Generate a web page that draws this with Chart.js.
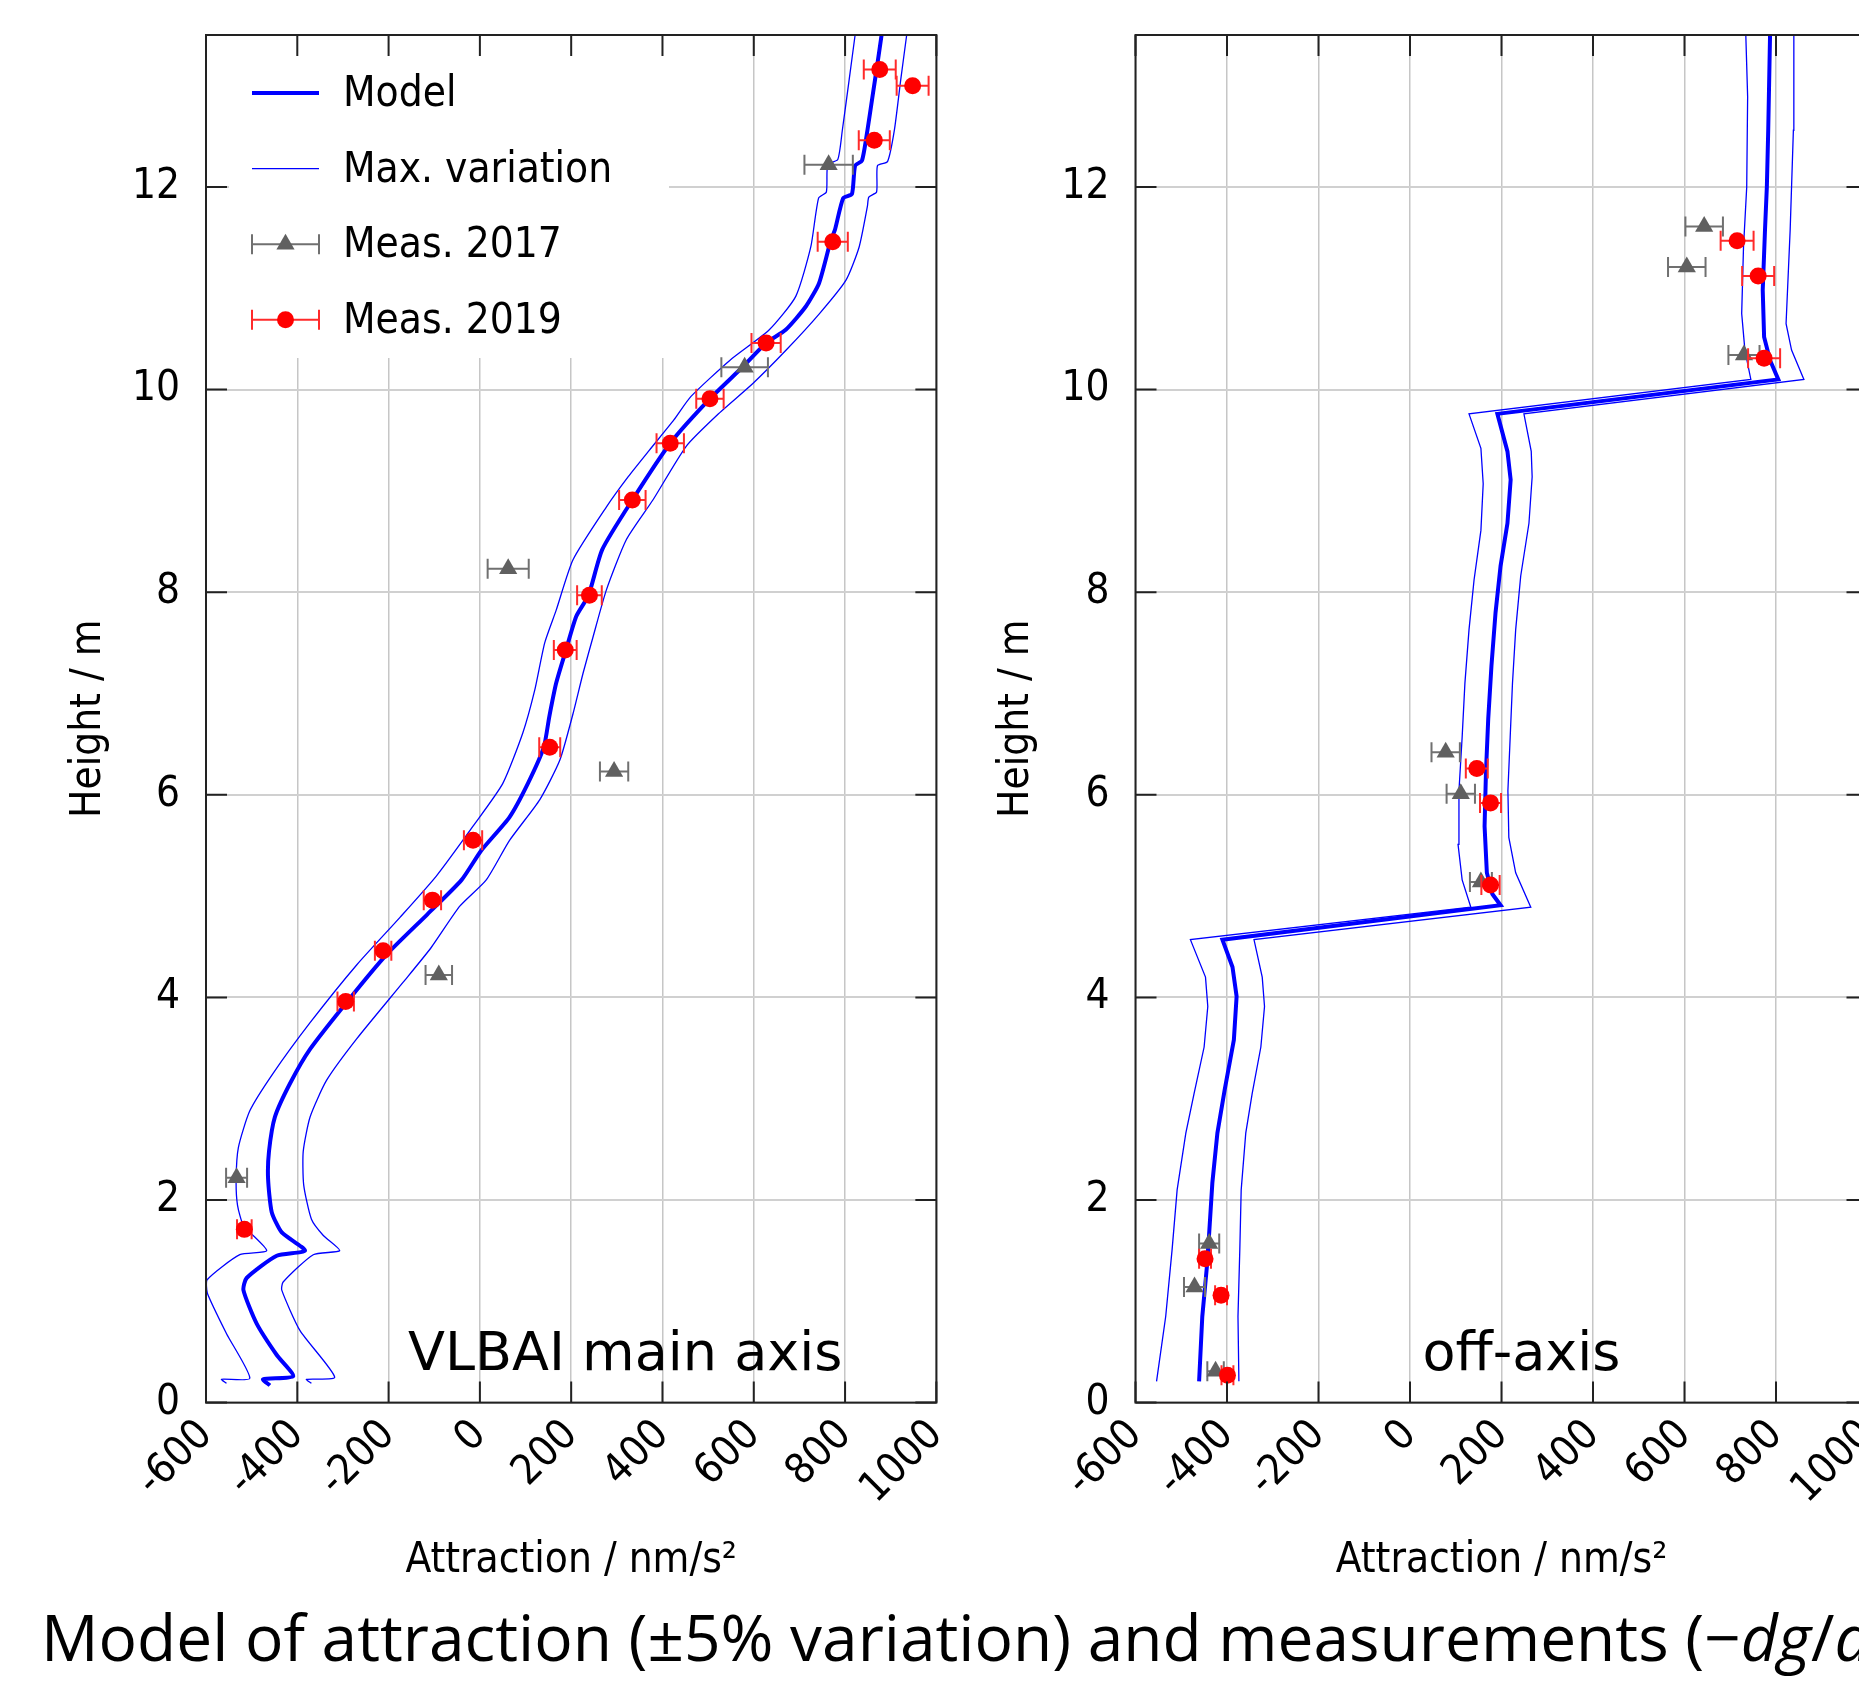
<!DOCTYPE html>
<html>
<head>
<meta charset="utf-8">
<script src="https://cdn.jsdelivr.net/npm/chart.js@4.4.1/dist/chart.umd.min.js"></script>
<style>
html, body { margin: 0; padding: 0; background: #fff; overflow: hidden; width: 1859px; height: 1681px; }
#page { position: relative; width: 2000px; height: 1681px; }
#main { position: absolute; left: 0; top: 0; }
#off { position: absolute; left: 960px; top: 0; }
#title { position: absolute; left: 41px; top: 1605px; font-family: 'Open Sans', 'Noto Sans', sans-serif; font-size: 64px; line-height: 64px; white-space: nowrap; color: #000; }
</style>
</head>
<body>
<div id="page">
  <canvas id="main" width="980" height="1681"></canvas>
  <canvas id="off" width="1000" height="1681"></canvas>
  <div id="title">Model of attraction (±5% variation) and measurements (−<i>dg</i>/<i>dz</i>)</div>
</div>
<script>
const condensed = "'DejaVu Sans Condensed', 'DejaVu Sans', sans-serif";

// axis ticks
const attractionTicks = [-600, -400, -200, 0, 200, 400, 600, 800, 1000];
const heightTicks = [0, 2, 4, 6, 8, 10, 12];

// VLBAI main axis: model and +-5% variation (height in m, attraction in nm/s^2)
const mainModelH = [0.17, 0.23, 0.26, 0.47, 0.78, 1.11, 1.23, 1.45, 1.50, 1.68, 1.88, 2.21, 2.48, 2.82, 3.15, 3.49, 3.99, 4.42, 4.82, 5.16, 5.45, 5.78, 6.11, 6.47, 6.77, 7.10, 7.42, 7.76, 7.97, 8.42, 8.91, 9.47, 9.91, 10.22, 10.46, 10.59, 10.82, 11.05, 11.46, 11.58, 11.89, 11.93, 12.21, 12.26, 12.56, 12.89, 13.22, 13.5];
const mainModelX = [-460, -475, -409, -445, -489, -518, -511, -445, -383, -434, -456, -464, -462, -449, -416, -372, -285, -205, -115, -40, 3, 65, 105, 140, 152, 167, 188, 211, 238, 268, 334, 417, 504, 575, 627, 670, 714, 743, 768, 778, 796, 815, 822, 837, 849, 860, 871, 880];
const mainLowH = [0.19, 0.23, 0.24, 0.68, 1.08, 1.21, 1.46, 1.50, 1.75, 1.95, 2.21, 2.52, 2.88, 3.25, 3.75, 4.32, 4.79, 5.20, 5.69, 6.11, 6.61, 7.03, 7.50, 7.82, 8.32, 8.84, 9.14, 9.40, 9.70, 9.93, 10.29, 10.59, 10.92, 11.41, 11.89, 11.95, 12.22, 12.27, 12.56, 13.06, 13.5];
const mainLowX = [-555, -566, -504, -555, -597, -598, -526, -467, -518, -531, -534, -529, -504, -453, -372, -270, -175, -95, -15, 50, 94, 120, 142, 167, 204, 277, 325, 371, 425, 462, 548, 634, 692, 725, 742, 759, 762, 784, 794, 809, 822];
const mainHighH = [0.19, 0.23, 0.25, 0.71, 1.11, 1.19, 1.46, 1.50, 1.65, 1.81, 2.15, 2.48, 2.82, 3.18, 3.59, 4.15, 4.49, 4.90, 5.16, 5.55, 5.95, 6.34, 6.80, 7.20, 7.56, 8.02, 8.52, 8.91, 9.44, 9.77, 10.06, 10.39, 10.75, 11.08, 11.41, 11.81, 11.90, 11.95, 12.21, 12.25, 12.56, 13.06, 13.5];
const mainHighX = [-369, -380, -318, -394, -434, -431, -365, -307, -343, -369, -386, -387, -372, -336, -270, -168, -107, -44, 14, 65, 131, 175, 204, 226, 248, 277, 321, 379, 452, 525, 598, 671, 744, 802, 831, 849, 852, 869, 871, 893, 908, 922, 935];

// VLBAI main axis: measurements with errors
const main2017H = [12.22, 10.22, 8.23, 6.23, 4.22, 2.22];
const main2017X = [764, 580, 62, 294, -90, -533];
const main2017Err = [53, 51, 45, 31, 29, 23];
const main2019H = [13.16, 13.00, 12.46, 11.46, 10.46, 9.91, 9.47, 8.91, 7.97, 7.43, 6.47, 5.55, 4.96, 4.46, 3.96, 1.71];
const main2019X = [876, 948, 864, 773, 627, 504, 417, 334, 240, 187, 153, -15, -104, -212, -294, -516];
const main2019Err = [35, 35, 34, 33, 32, 30, 30, 29, 27, 25, 23, 20, 19, 18, 18, 16];

// off-axis: model and variation
const offModelH = [0.21, 0.85, 1.34, 1.67, 2.17, 2.66, 3.09, 3.58, 4.01, 4.30, 4.57, 4.91, 5.02, 5.23, 5.69, 6.22, 6.75, 7.27, 7.80, 8.26, 8.68, 9.11, 9.39, 9.76, 10.10, 10.29, 10.52, 10.98, 11.58, 12.00, 12.56, 13.5];
const offModelX = [-461, -454, -444, -439, -432, -421, -405, -385, -379, -388, -410, 198, 180, 168, 163, 166, 171, 178, 187, 198, 213, 220, 213, 191, 805, 787, 774, 771, 776, 780, 783, 787];
const offLowH = [0.21, 0.85, 1.51, 2.10, 2.66, 3.05, 3.51, 3.91, 4.20, 4.57, 4.89, 5.16, 5.51, 6.04, 6.57, 7.10, 7.63, 8.12, 8.61, 9.07, 9.42, 9.76, 10.10, 10.39, 10.75, 11.41, 12.00, 12.89, 13.5];
const offLowX = [-554, -534, -520, -509, -490, -472, -450, -442, -447, -480, 133, 114, 105, 107, 114, 120, 129, 140, 155, 160, 155, 129, 745, 732, 725, 729, 736, 738, 734];
const offHighH = [0.21, 0.85, 1.51, 2.10, 2.66, 3.05, 3.51, 3.91, 4.20, 4.57, 4.89, 5.23, 5.58, 6.04, 6.57, 7.10, 7.63, 8.16, 8.68, 9.14, 9.39, 9.76, 10.10, 10.39, 10.65, 11.58, 12.56, 13.5];
const offHighX = [-374, -376, -372, -369, -359, -345, -326, -318, -323, -341, 264, 231, 216, 214, 219, 224, 231, 242, 260, 267, 265, 249, 861, 834, 822, 831, 838, 839];

// off-axis: measurements
const off2017H = [11.61, 11.21, 10.34, 6.42, 6.01, 5.14, 1.57, 1.14, 0.31];
const off2017X = [643, 605, 730, 78, 111, 155, -439, -471, -425];
const off2017Err = [41, 41, 34, 31, 31, 24, 22, 23, 18];
const off2019H = [11.47, 11.12, 10.31, 6.26, 5.92, 5.11, 1.42, 1.06, 0.27];
const off2019X = [715, 761, 774, 146, 176, 176, -448, -413, -399];
const off2019Err = [36, 35, 35, 24, 23, 20, 13, 13, 13];

function pts(hs, xs) {
    return hs.map((h, i) => ({x: xs[i], y: h}));
}

function makeDatasets(m, tension) {
    return [
        {label: 'Meas. 2019', data: pts(m.h19, m.x19), err: m.e19, errColor: '#ff2a2a',
         showLine: false, pointStyle: 'circle', pointRadius: 8.5, borderWidth: 0,
         backgroundColor: '#ff0000', borderColor: '#ff0000', order: 0},
        {label: 'Meas. 2017', data: pts(m.h17, m.x17), err: m.e17, errColor: '#707070',
         showLine: false, pointStyle: 'triangle', pointRadius: 10.5, borderWidth: 0,
         backgroundColor: '#606060', borderColor: '#606060', order: 1},
        {label: 'Model', data: pts(m.hm, m.xm), showLine: true, pointRadius: 0, tension: tension,
         borderColor: '#0000ff', borderWidth: 4, order: 2},
        {label: 'Max. variation', data: pts(m.hl, m.xl), showLine: true, pointRadius: 0, tension: tension,
         borderColor: '#0000ff', borderWidth: 1.3, order: 3},
        {label: 'Max. variation', data: pts(m.hh, m.xh), showLine: true, pointRadius: 0, tension: tension,
         borderColor: '#0000ff', borderWidth: 1.3, order: 4}
    ];
}

// horizontal error bars with caps, drawn just under each marker set
const errorBars = {
    id: 'errorBars',
    beforeDatasetDraw(chart, args) {
        const ds = chart.data.datasets[args.index];
        if (!ds.err) return;
        const xs = chart.scales.x, ys = chart.scales.y, ctx = chart.ctx;
        ctx.save();
        ctx.strokeStyle = ds.errColor;
        ctx.lineWidth = 2;
        ds.data.forEach((p, i) => {
            const y = ys.getPixelForValue(p.y);
            const x0 = xs.getPixelForValue(p.x - ds.err[i]);
            const x1 = xs.getPixelForValue(p.x + ds.err[i]);
            ctx.beginPath();
            ctx.moveTo(x0, y); ctx.lineTo(x1, y);
            ctx.moveTo(x0, y - 10); ctx.lineTo(x0, y + 10);
            ctx.moveTo(x1, y - 10); ctx.lineTo(x1, y + 10);
            ctx.stroke();
        });
        ctx.restore();
    }
};

// legend inside the plot, on a white box over the grid
const insideLegend = {
    id: 'insideLegend',
    beforeDatasetsDraw(chart, args, opts) {
        if (!opts.show) return;
        const ctx = chart.ctx, a = chart.chartArea;
        ctx.save();
        ctx.fillStyle = '#ffffff';
        ctx.fillRect(a.left + 23, a.top + 1, 440, 322);
        const rows = ['Model', 'Max. variation', 'Meas. 2017', 'Meas. 2019'];
        rows.forEach((label, i) => {
            const ds = chart.data.datasets.find(d => d.label === label);
            const cy = a.top + 58 + i * 75.6;
            const x0 = a.left + 46, x1 = a.left + 113;
            ctx.beginPath();
            ctx.strokeStyle = ds.err ? ds.errColor : ds.borderColor;
            ctx.lineWidth = ds.err ? 2 : ds.borderWidth;
            ctx.moveTo(x0, cy); ctx.lineTo(x1, cy);
            if (ds.err) {
                ctx.moveTo(x0, cy - 10); ctx.lineTo(x0, cy + 10);
                ctx.moveTo(x1, cy - 10); ctx.lineTo(x1, cy + 10);
            }
            ctx.stroke();
            if (ds.err) {
                ctx.fillStyle = ds.backgroundColor;
                Chart.helpers.drawPoint(ctx, {pointStyle: ds.pointStyle, radius: ds.pointRadius, rotation: 0, borderWidth: 0}, (x0 + x1) / 2, cy);
            }
            ctx.fillStyle = '#000';
            ctx.font = '42px ' + condensed;
            ctx.textBaseline = 'middle';
            ctx.fillText(label, a.left + 137, cy + 2);
        });
        ctx.restore();
    }
};

// frame with inward tick marks on all four sides, plus the panel note
const frame = {
    id: 'frame',
    afterDraw(chart, args, opts) {
        const ctx = chart.ctx, a = chart.chartArea;
        const xs = chart.scales.x, ys = chart.scales.y;
        ctx.save();
        ctx.strokeStyle = '#222';
        ctx.lineWidth = 2;
        ctx.beginPath();
        xs.ticks.forEach(t => {
            const px = xs.getPixelForValue(t.value);
            ctx.moveTo(px, a.top); ctx.lineTo(px, a.top + 21);
            ctx.moveTo(px, a.bottom); ctx.lineTo(px, a.bottom - 21);
        });
        ys.ticks.forEach(t => {
            const py = ys.getPixelForValue(t.value);
            ctx.moveTo(a.left, py); ctx.lineTo(a.left + 21, py);
            ctx.moveTo(a.right, py); ctx.lineTo(a.right - 21, py);
        });
        ctx.stroke();
        ctx.strokeRect(a.left, a.top, a.right - a.left, a.bottom - a.top);
        ctx.fillStyle = '#000';
        ctx.font = "54px 'DejaVu Sans', sans-serif";
        ctx.textBaseline = 'alphabetic';
        ctx.fillText(opts.note, a.left + opts.noteX, a.bottom - 33);
        ctx.restore();
    }
};

function newPanel(id, datasets, yWidth, padRight, titlePad, note, noteX, legend) {
    const ctx = document.getElementById(id).getContext('2d');
    return new Chart(ctx, {
        type: 'scatter',
        data: {datasets: datasets},
        options: {
            responsive: false,
            animation: false,
            events: [],
            layout: {padding: {left: 0, top: 35, right: padRight, bottom: 94.4}},
            scales: {
                x: {
                    type: 'linear',
                    min: -600,
                    max: 1000,
                    afterBuildTicks: s => { s.ticks = attractionTicks.map(v => ({value: v})); },
                    afterFit: s => { s.height = 184; },
                    ticks: {
                        autoSkip: false,
                        minRotation: 45,
                        maxRotation: 45,
                        padding: 8,
                        color: '#000',
                        font: {family: condensed, size: 42},
                        callback: v => String(v)
                    },
                    grid: {color: '#c6c6c6', lineWidth: 1.5, drawTicks: false},
                    border: {display: false},
                    title: {
                        display: true,
                        text: 'Attraction / nm/s²',
                        color: '#000',
                        font: {family: condensed, size: 42},
                        padding: {top: 0, bottom: 0}
                    }
                },
                y: {
                    type: 'linear',
                    min: 0,
                    max: 13.5,
                    afterBuildTicks: s => { s.ticks = heightTicks.map(v => ({value: v})); },
                    afterFit: s => { s.width = yWidth; },
                    ticks: {
                        padding: 26,
                        color: '#000',
                        // small line height keeps the label padding from pushing the plot top down
                        font: {family: condensed, size: 42, lineHeight: 0.4},
                        callback: v => String(v)
                    },
                    grid: {color: '#d0d0d0', lineWidth: 2, drawTicks: false},
                    border: {display: false},
                    title: {
                        display: true,
                        text: 'Height / m',
                        color: '#000',
                        font: {family: condensed, size: 42},
                        padding: {top: titlePad, bottom: 0}
                    }
                }
            },
            plugins: {
                legend: {display: false},
                tooltip: {enabled: false},
                insideLegend: {show: legend},
                frame: {note: note, noteX: noteX}
            }
        },
        plugins: [errorBars, insideLegend, frame]
    });
}

const mainSets = makeDatasets({
    hm: mainModelH, xm: mainModelX, hl: mainLowH, xl: mainLowX, hh: mainHighH, xh: mainHighX,
    h17: main2017H, x17: main2017X, e17: main2017Err, h19: main2019H, x19: main2019X, e19: main2019Err
}, 0.2);
// the off-axis curves have sharp jumps, so no smoothing there
const offSets = makeDatasets({
    hm: offModelH, xm: offModelX, hl: offLowH, xl: offLowX, hh: offHighH, xh: offHighX,
    h17: off2017H, x17: off2017X, e17: off2017Err, h19: off2019H, x19: off2019X, e19: off2019Err
}, 0);

newPanel('main', mainSets, 206, 43, 64, 'VLBAI main axis', 202, true);
newPanel('off', offSets, 175.5, 92.5, 32, 'off-axis', 287, false);
</script>
</body>
</html>
